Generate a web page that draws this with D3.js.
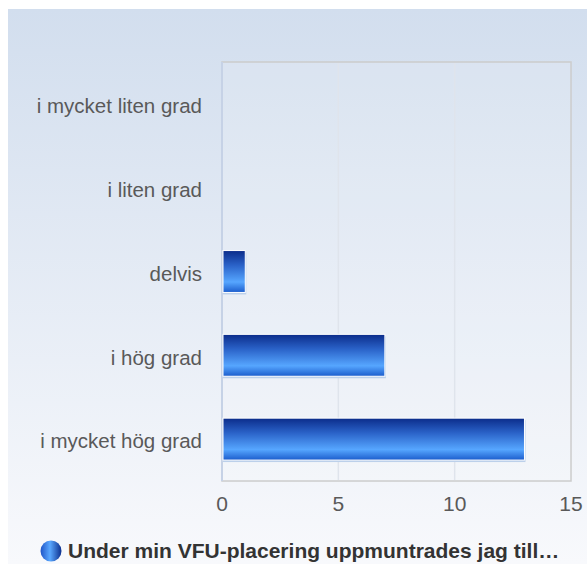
<!DOCTYPE html>
<html>
<head>
<meta charset="utf-8">
<script src="https://cdn.jsdelivr.net/npm/d3@7"></script>
<style>
  body { margin: 0; background: #fff; }
  text { font-family: "Liberation Sans", Arial, sans-serif; }
</style>
</head>
<body>
<div id="container"></div>
<script>
let width = 587;
let height = 564;

// data
var categories = ["i mycket liten grad", "i liten grad", "delvis", "i hög grad", "i mycket hög grad"];
var values = [0, 0, 1, 7, 13];
var xTicks = [0, 5, 10, 15];
var seriesName = "Under min VFU-placering uppmuntrades jag till…";

let margin = {left: 222, right: 16, top: 62, bottom: 83};

let svg = d3.select("#container").append("svg")
  .attr("width", width)
  .attr("height", height);

let defs = svg.append("defs");

let bg = defs.append("linearGradient").attr("id", "bg")
  .attr("x1", 0).attr("y1", 0).attr("x2", 0).attr("y2", 1);
bg.append("stop").attr("offset", "0%").attr("stop-color", "#d2deee");
bg.append("stop").attr("offset", "100%").attr("stop-color", "#f8f9fc");

let barGrad = defs.append("linearGradient").attr("id", "barGrad")
  .attr("x1", 0).attr("y1", 0).attr("x2", 0).attr("y2", 1);
barGrad.append("stop").attr("offset", "0%").attr("stop-color", "#0b2c8a");
barGrad.append("stop").attr("offset", "35%").attr("stop-color", "#2a62c8");
barGrad.append("stop").attr("offset", "75%").attr("stop-color", "#56a6ff");
barGrad.append("stop").attr("offset", "100%").attr("stop-color", "#1b5ccc");

let dotGrad = defs.append("linearGradient").attr("id", "dotGrad")
  .attr("x1", 0).attr("y1", 0).attr("x2", 1).attr("y2", 0);
dotGrad.append("stop").attr("offset", "0%").attr("stop-color", "#1f55c8");
dotGrad.append("stop").attr("offset", "45%").attr("stop-color", "#5aa8ff");
dotGrad.append("stop").attr("offset", "100%").attr("stop-color", "#0c2f8e");

// background
svg.append("rect")
  .attr("x", 8).attr("y", 9)
  .attr("width", width - 8).attr("height", height - 9)
  .attr("fill", "url(#bg)");

let x = d3.scaleLinear()
  .domain([0, 15])
  .range([margin.left, width - margin.right]);

let y = d3.scaleBand()
  .domain(categories)
  .range([margin.top, height - margin.bottom])
  .paddingInner(0.5)
  .paddingOuter(0.25);

// plot area
svg.append("rect")
  .attr("x", x(0)).attr("y", margin.top)
  .attr("width", x(15) - x(0))
  .attr("height", height - margin.bottom - margin.top)
  .attr("fill", "rgba(255,255,255,0.12)")
  .attr("stroke", "#cccccc")
  .attr("stroke-width", 1.5);

// grid
svg.append("g")
  .selectAll("line")
  .data(xTicks.slice(1, -1))
  .enter().append("line")
  .attr("x1", d => x(d)).attr("x2", d => x(d))
  .attr("y1", margin.top + 1).attr("y2", height - margin.bottom - 1)
  .attr("stroke", "#dfe4ec")
  .attr("stroke-width", 1.5);

// left axis line
svg.append("line")
  .attr("x1", x(0)).attr("x2", x(0))
  .attr("y1", margin.top).attr("y2", height - margin.bottom)
  .attr("stroke", "#c6d2e6")
  .attr("stroke-width", 2);

// bars
let bars = svg.append("g").selectAll("g")
  .data(categories.map((c, i) => ({cat: c, val: values[i]})).filter(d => d.val > 0))
  .enter().append("g");

bars.append("rect")
  .attr("x", x(0) + 1)
  .attr("y", d => y(d.cat) + 2)
  .attr("width", d => x(d.val) - x(0))
  .attr("height", y.bandwidth())
  .attr("fill", "#bcd0ea");

bars.append("rect")
  .attr("x", x(0) + 1)
  .attr("y", d => y(d.cat))
  .attr("width", d => x(d.val) - x(0) - 1)
  .attr("height", y.bandwidth())
  .attr("fill", "url(#barGrad)")
  .attr("stroke", "#ffffff")
  .attr("stroke-width", 1);

// y labels
svg.append("g").selectAll("text")
  .data(categories)
  .enter().append("text")
  .attr("x", 202)
  .attr("y", d => y(d) + y.bandwidth() / 2)
  .attr("dy", "0.45em")
  .attr("text-anchor", "end")
  .attr("fill", "#595959")
  .style("font-size", "20.5px")
  .text(d => d);

// x ticks
svg.append("g").selectAll("text")
  .data(xTicks)
  .enter().append("text")
  .attr("x", d => x(d))
  .attr("y", 511)
  .attr("text-anchor", "middle")
  .attr("fill", "#595959")
  .style("font-size", "21px")
  .text(d => d);

// legend
svg.append("circle")
  .attr("cx", 51).attr("cy", 551)
  .attr("r", 10.5)
  .attr("fill", "url(#dotGrad)");

svg.append("text")
  .attr("x", 68).attr("y", 558)
  .attr("fill", "#333333")
  .style("font-size", "21px")
  .style("font-weight", "bold")
  .text(seriesName);
</script>
</body>
</html>
